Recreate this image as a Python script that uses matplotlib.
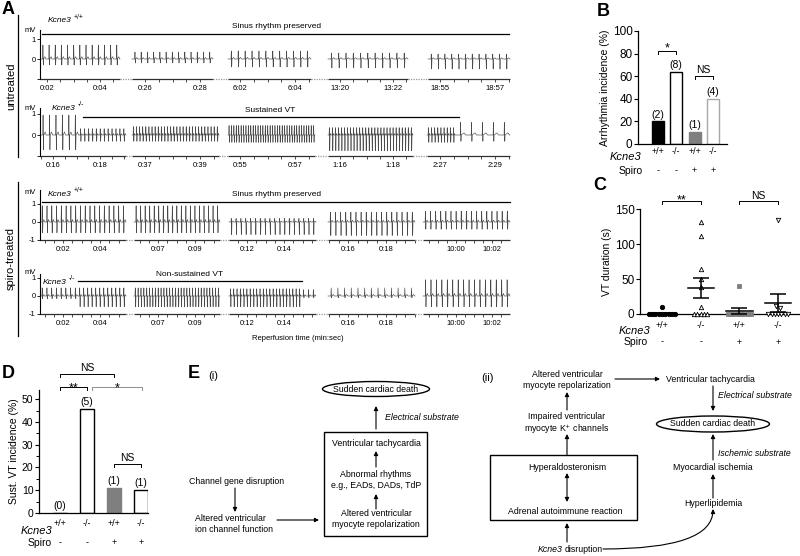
import numpy as np
import matplotlib
matplotlib.use('Agg')
import matplotlib.pyplot as plt
from matplotlib import transforms
from matplotlib.patches import Ellipse, Rectangle

plt.rcParams['font.family'] = ['Liberation Sans', 'DejaVu Sans']

# ---------------- panel A: ECG strips ----------------
# one list per strip, one entry per segment:
# runs of (beats, share of segment, R height mV, S depth mV)
ecg_untreated_wt = [
    [(13, 1.0, 0.70, 0.30)],
    [(13, 1.0, 0.35, 0.20)],
    [(12, 1.0, 0.40, 0.40)],
    [(11, 1.0, 0.30, 0.45)],
    [(12, 1.0, 0.25, 0.50)],
]
ecg_untreated_ko = [
    [(6, 0.45, 0.95, 0.70), (12, 0.55, 0.30, 0.30)],
    [(28, 1.0, 0.40, 0.30)],
    [(36, 1.0, 0.45, 0.35)],
    [(28, 1.0, 0.35, 0.75)],
    [(9, 0.34, 0.35, 0.35), (5, 0.66, 0.60, 0.30)],
]
ecg_spiro_wt = [
    [(18, 1.0, 0.90, 0.60)],
    [(19, 1.0, 0.90, 0.60)],
    [(18, 1.0, 0.20, 0.70)],
    [(17, 1.0, 0.55, 0.75)],
    [(17, 1.0, 0.60, 0.40)],
]
ecg_spiro_ko = [
    [(8, 0.44, 0.45, 0.15), (12, 0.56, 0.45, 0.60)],
    [(30, 1.0, 0.45, 0.60)],
    [(22, 0.83, 0.40, 0.60), (3, 0.17, 0.35, 0.10)],
    [(13, 1.0, 0.45, 0.10)],
    [(16, 1.0, 0.90, 0.60)],
]
times_untreated_wt = ['0:02', '0:04', '0:26', '0:28', '6:02', '6:04', '13:20', '13:22', '18:55', '18:57']
times_untreated_ko = ['0:16', '0:18', '0:37', '0:39', '0:55', '0:57', '1:16', '1:18', '2:27', '2:29']
times_spiro = ['0:02', '0:04', '0:07', '0:09', '0:12', '0:14', '0:16', '0:18', '10:00', '10:02']

# ---------------- panel B ----------------
genotype = ['+/+', '-/-', '+/+', '-/-']
spiro = ['-', '-', '+', '+']
b_incidence = [20, 64, 11, 40]
b_counts = ['(2)', '(8)', '(1)', '(4)']

# ---------------- panel C (VT duration, s) ----------------
c_wt = [10, 0, 0, 0, 0, 0, 0, 0, 0, 0]
c_ko = [132, 112, 65, 50, 38, 10, 0, 0, 0, 0, 0]
c_wt_spiro = [40, 0, 0, 0, 0, 0, 0, 0, 0]
c_ko_spiro = [135, 12, 8, 0, 0, 0, 0, 0, 0, 0]

# ---------------- panel D ----------------
d_incidence = [0, 45.5, 11, 10]
d_counts = ['(0)', '(5)', '(1)', '(1)']

W, H = 800, 556
fig = plt.figure(figsize=(W / 100, H / 100), dpi=100)
fig.patch.set_facecolor('white')


def px_axes(x0, y0, x1, y1):
    return fig.add_axes([x0 / W, 1 - y1 / H, (x1 - x0) / W, (y1 - y0) / H])


# canvas in pixel units for labels and the flow chart
cv = px_axes(0, 0, W, H)
cv.set_xlim(0, W)
cv.set_ylim(H, 0)
cv.axis('off')
cv.patch.set_alpha(0)

for txt, x, y in [('A', 2, 9), ('B', 597, 12), ('C', 593, 185), ('D', 2, 373), ('E', 188, 373)]:
    cv.text(x, y, txt, fontsize=13, fontweight='bold', ha='left', va='center')


def gene(ax, x, y, sup, fs=6):
    t = ax.text(x, y, 'Kcne3', fontsize=fs, style='italic', ha='left', va='center')
    ax.annotate(sup, xy=(1.0, 0.55), xycoords=t, xytext=(1.5, 0), textcoords='offset points',
                fontsize=fs * 0.8, va='bottom', ha='left')
    return t


# ---------------- panel A ----------------
def trace(runs, a, b):
    xs, ys = [a], [0.0]
    pos = a
    for n, share, up, down in runs:
        w = share * (b - a)
        sp = w / n
        for i in range(n):
            c = pos + sp * (i + 0.5)
            xs += [c - 0.45, c - 0.15, c + 0.25, c + 0.55]
            ys += [0.0, up, -down, 0.0]
            if 0.3 * sp > 0.9:
                xs += [c + 0.3 * sp, c + 0.45 * sp]
                ys += [0.12 * up + 0.03, 0.0]
        pos += w
    xs.append(b)
    ys.append(0.0)
    return np.array(xs), np.array(ys)


segs_untreated_wt = [(40, 120), (132, 213), (228, 311), (328, 408), (428, 510)]
segs_untreated_ko = [(40, 126), (132, 219), (228, 315), (328, 413), (427, 510)]
segs_spiro = [(40, 126), (134, 220), (229, 316), (328, 415), (423, 510)]

rows = [
    # data, segments, time labels, label px, zero px, px per mV, top mV, label -1
    (ecg_untreated_wt, segs_untreated_wt, times_untreated_wt,
     [47, 100, 145, 200, 240, 295, 340, 393, 440, 495], 59, 20, 1.45, False),
    (ecg_untreated_ko, segs_untreated_ko, times_untreated_ko,
     [53, 100, 145, 200, 240, 295, 340, 393, 440, 495], 135, 21, 1.3, False),
    (ecg_spiro_wt, segs_spiro, times_spiro,
     [63, 100, 158, 195, 247, 284, 348, 386, 456, 492], 222, 18, 1.8, True),
    (ecg_spiro_ko, segs_spiro, times_spiro,
     [63, 100, 158, 195, 247, 284, 348, 386, 456, 492], 296, 18, 1.2, True),
]

for data, segs, tlabels, tpos, y0, pxmv, top, neg in rows:
    ax = px_axes(40, y0 - top * pxmv, 512, y0 + pxmv)
    ax.patch.set_alpha(0)
    ax.set_xlim(40, 512)
    ax.set_ylim(-1, top)
    for runs, (a, b) in zip(data, segs):
        xs, ys = trace(runs, a, b)
        ax.plot(xs, ys, color='#4a4a4a', lw=0.45)
        ax.plot([a, b], [-1, -1], color='#303030', lw=0.9, clip_on=False, solid_capstyle='butt')
    for (a1, b1), (a2, b2) in zip(segs[:-1], segs[1:]):
        ax.plot([b1, a2], [-1, -1], color='0.6', lw=0.9, ls=(0, (1, 1)), clip_on=False)
    minor = []
    for k, (a, b) in enumerate(segs):
        p1, p2 = tpos[2 * k], tpos[2 * k + 1]
        d = (p2 - p1) / 4
        minor += [p1 + d * j for j in range(-12, 20) if a + 0.5 <= p1 + d * j <= b - 0.5]
    ax.set_xticks(tpos)
    ax.set_xticklabels(tlabels)
    ax.set_xticks(minor, minor=True)
    ax.tick_params(axis='x', which='both', length=2, width=0.6, pad=2, labelsize=5.5, color='#303030')
    ax.set_yticks([1, 0, -1])
    ax.set_yticklabels(['1', '0', '-1' if neg else ''])
    ax.tick_params(axis='y', length=2, width=0.6, pad=1, labelsize=5.5)
    for s in ['top', 'right', 'bottom']:
        ax.spines[s].set_visible(False)
    ax.spines['left'].set_bounds(-1, top)
    ax.spines['left'].set_linewidth(0.8)

# strip annotations
for x, y in [(30, 30), (30, 108), (30, 192), (30, 272)]:
    cv.text(x, y, 'mV', fontsize=5.5, ha='center', va='center')
gene(cv, 48, 21, '+/+')
gene(cv, 52, 108, '-/-')
gene(cv, 48, 194, '+/+')
gene(cv, 43, 282, '-/-')

cv.plot([42, 509], [34, 34], color='k', lw=0.9)
cv.text(277, 27, 'Sinus rhythm preserved', fontsize=6, ha='center', va='center')
cv.plot([83, 459], [117, 117], color='k', lw=0.9)
cv.text(270, 111, 'Sustained VT', fontsize=6, ha='center', va='center')
cv.plot([42, 510], [202, 202], color='k', lw=0.9)
cv.text(277, 195, 'Sinus rhythm preserved', fontsize=6, ha='center', va='center')
cv.plot([78, 302], [281, 281], color='k', lw=0.9)
cv.text(190, 274, 'Non-sustained VT', fontsize=6, ha='center', va='center')
cv.text(298, 338, 'Reperfusion time (min:sec)', fontsize=5.5, ha='center', va='center')

cv.plot([18, 18], [15, 157], color='k', lw=0.9)
cv.text(11, 86, 'untreated', fontsize=8, rotation=90, ha='center', va='center')
cv.plot([18, 18], [182, 336], color='k', lw=0.9)
cv.text(11, 258, 'spiro-treated', fontsize=8, rotation=90, ha='center', va='center')


# ---------------- shared helpers for B, C, D ----------------
def bracket(ax, x1, x2, y, h, text, color='k', fs=8, dy=0.0):
    ax.plot([x1, x1, x2, x2], [y - h, y, y, y - h], color=color, lw=0.7, clip_on=False)
    ax.text((x1 + x2) / 2, y + dy, text, ha='center', va='bottom', fontsize=fs, clip_on=False)


def style_axes(ax, fs=8.5):
    ax.patch.set_alpha(0)
    for s in ['top', 'right']:
        ax.spines[s].set_visible(False)
    for s in ['left', 'bottom']:
        ax.spines[s].set_linewidth(0.9)
    ax.tick_params(axis='y', length=3, width=0.8, labelsize=fs, pad=1)
    ax.tick_params(axis='x', length=0, labelbottom=False)


def group_rows(ax, xs, y_gene, y_kcne, y_spiro, x_gene, x_spiro, fs=7):
    tr = transforms.blended_transform_factory(ax.transData, cv.transData)
    for x, g, s in zip(xs, genotype, spiro):
        cv.text(x, y_gene, g, fontsize=fs - 0.5, ha='center', va='center', transform=tr)
        cv.text(x, y_spiro, s, fontsize=fs - 0.5, ha='center', va='center', transform=tr)
    cv.text(x_gene, y_kcne, 'Kcne3', fontsize=fs + 1.0, style='italic', ha='right', va='center')
    cv.text(x_spiro, y_spiro, 'Spiro', fontsize=fs + 0.5, ha='right', va='center')


bar_face = ['black', 'white', '#7f7f7f', 'white']
pos = np.arange(4)

# ---------------- panel B ----------------
axB = px_axes(638, 31, 727, 144)
style_axes(axB)
axB.bar(pos, b_incidence, width=0.66, color=bar_face,
        edgecolor=['black', 'black', '#7f7f7f', '#a8a8a8'], linewidth=1.0)
for x, v, c in zip(pos, b_incidence, b_counts):
    axB.text(x, v + 1.5, c, ha='center', va='bottom', fontsize=7.5)
axB.set_xlim(-1.09, 3.77)
axB.set_ylim(0, 100)
axB.set_yticks([0, 20, 40, 60, 80, 100])
axB.set_ylabel('Arrhythmia incidence (%)', fontsize=7.5, labelpad=2)
bracket(axB, 0, 1, 82, 2.5, '*', fs=9, dy=-3)
bracket(axB, 2, 3, 60, 2.5, 'NS', fs=7.5, dy=1)
group_rows(axB, pos, 152, 157, 171, 641, 643)

# ---------------- panel C ----------------
axC = px_axes(640, 209, 799, 314)
style_axes(axC)
c_groups = [c_wt, c_ko, c_wt_spiro, c_ko_spiro]
c_marker = [('o', 'black', 'black'), ('^', 'white', 'black'), ('s', '#7f7f7f', '#7f7f7f'), ('v', 'white', 'black')]
for x, vals, (m, fc, ec) in zip(pos, c_groups, c_marker):
    vals = np.asarray(vals, dtype=float)
    bins = {}
    for v in vals:
        bins.setdefault(int(round(v / 12)), []).append(v)
    for members in bins.values():
        n = len(members)
        offs = (np.arange(n) - (n - 1) / 2) * 0.085
        axC.scatter(x + offs, members, marker=m, s=10, facecolors=fc, edgecolors=ec,
                    linewidths=0.6, clip_on=False, zorder=3)
    mean = vals.mean()
    sem = vals.std(ddof=1) / np.sqrt(len(vals))
    axC.plot([x - 0.34, x + 0.34], [mean, mean], color='black', lw=1.1, zorder=4)
    axC.errorbar(x, mean, yerr=sem, color='black', lw=1.1, capsize=5.5, capthick=1.1, zorder=4)
axC.set_xlim(-0.57, 3.54)
axC.set_ylim(0, 150)
axC.set_yticks([0, 50, 100, 150])
axC.set_ylabel('VT duration (s)', fontsize=7.5, labelpad=2)
bracket(axC, 0, 1, 161, 4, '**', fs=9, dy=-8)
bracket(axC, 2, 3, 161, 4, 'NS', fs=7.5, dy=1)
group_rows(axC, pos, 325, 331, 342, 650, 648)

# ---------------- panel D ----------------
axD = px_axes(39, 390, 148, 513)
style_axes(axD, fs=7.5)
axD.bar(pos, d_incidence, width=0.52, color=bar_face,
        edgecolor=['black', 'black', '#7f7f7f', 'black'], linewidth=1.0)
for x, v, c in zip(pos, d_incidence, d_counts):
    axD.text(x, v + 1.0, c, ha='center', va='bottom', fontsize=7.5)
axD.set_xlim(-0.78, 3.26)
axD.set_ylim(0, 54)
axD.set_yticks([0, 10, 20, 30, 40, 50])
axD.set_yticks(np.arange(5, 54, 10), minor=True)
axD.tick_params(axis='y', which='minor', length=2, width=0.7)
axD.set_ylabel('Sust. VT incidence (%)', fontsize=7.5, labelpad=2)
bracket(axD, 0, 2, 61, 1.5, 'NS', fs=7.5, dy=0.5)
bracket(axD, 0, 1, 55.5, 1.5, '**', fs=9, dy=-3.5)
bracket(axD, 1.2, 3.05, 55.5, 1.5, '*', color='0.55', fs=9, dy=-3.5)
bracket(axD, 2, 3, 21.5, 1.5, 'NS', fs=7.5, dy=0.5)
group_rows(axD, pos, 523, 531, 543, 52, 52)


# ---------------- panel E: flow charts ----------------
def arrow(x1, y1, x2, y2, style='-|>', conn='arc3'):
    cv.annotate('', xy=(x2, y2), xytext=(x1, y1),
                arrowprops=dict(arrowstyle=style, lw=0.8, color='black', mutation_scale=6,
                                shrinkA=0, shrinkB=0, connectionstyle=conn))


fs_e = 6.3
cv.text(213, 376, '(i)', fontsize=8, ha='center', va='center')
cv.text(488, 378, '(ii)', fontsize=8, ha='center', va='center')

# (i)
cv.add_patch(Ellipse((376, 389), 107, 15, fill=False, lw=1.0))
cv.text(376, 389, 'Sudden cardiac death', fontsize=fs_e, ha='center', va='center')
arrow(376, 429, 376, 406)
cv.text(385, 418, 'Electrical substrate', fontsize=fs_e, style='italic', ha='left', va='center')
cv.add_patch(Rectangle((324, 432), 103, 104, fill=False, lw=1.0))
cv.text(376, 443, 'Ventricular tachycardia', fontsize=fs_e, ha='center', va='center')
arrow(376, 467, 376, 451)
cv.text(376, 480, 'Abnormal rhythms\ne.g., EADs, DADs, TdP', fontsize=fs_e, ha='center', va='center',
        linespacing=1.15)
arrow(376, 509, 376, 494)
cv.text(376, 519, 'Altered ventricular\nmyocyte repolarization', fontsize=fs_e, ha='center', va='center',
        linespacing=1.15)
cv.text(189, 482, 'Channel gene disruption', fontsize=fs_e, ha='left', va='center')
arrow(235, 488, 235, 512)
cv.text(195, 524, 'Altered ventricular\nion channel function', fontsize=fs_e, ha='left', va='center',
        linespacing=1.15)
arrow(277, 520, 319, 520)

# (ii)
cv.text(567, 380, 'Altered ventricular\nmyocyte repolarization', fontsize=fs_e, ha='center', va='center',
        linespacing=1.15)
arrow(615, 379, 660, 379)
cv.text(710, 379, 'Ventricular tachycardia', fontsize=fs_e, ha='center', va='center')
arrow(713, 386, 713, 411)
cv.text(718, 395, 'Electrical substrate', fontsize=fs_e, style='italic', ha='left', va='center')
cv.add_patch(Ellipse((713, 424), 113, 16, fill=False, lw=1.0))
cv.text(713, 424, 'Sudden cardiac death', fontsize=fs_e, ha='center', va='center')
arrow(713, 460, 713, 434)
cv.text(718, 453, 'Ischemic substrate', fontsize=fs_e, style='italic', ha='left', va='center')
cv.text(713, 468, 'Myocardial ischemia', fontsize=fs_e, ha='center', va='center')
arrow(713, 498, 713, 474)
cv.text(713, 503, 'Hyperlipidemia', fontsize=fs_e, ha='center', va='center')
arrow(567, 410, 567, 392)
cv.text(567, 424, 'Impaired ventricular\nmyocyte K$^{+}$ channels', fontsize=fs_e, ha='center', va='center',
        linespacing=1.15)
arrow(567, 455, 567, 434)
cv.add_patch(Rectangle((490, 455), 147, 65, fill=False, lw=1.0))
cv.text(567, 467, 'Hyperaldosteronism', fontsize=fs_e, ha='center', va='center')
arrow(567, 473, 567, 502, style='<|-|>')
cv.text(565, 511, 'Adrenal autoimmune reaction', fontsize=fs_e, ha='center', va='center')
arrow(567, 542, 567, 523)
cv.text(563, 549, 'Kcne3', fontsize=fs_e, style='italic', ha='right', va='center')
cv.text(565, 549, 'disruption', fontsize=fs_e, ha='left', va='center')
arrow(603, 549, 713, 509, conn='angle3,angleA=0,angleB=90')

fig.savefig('out.png', dpi=100, facecolor='white')
